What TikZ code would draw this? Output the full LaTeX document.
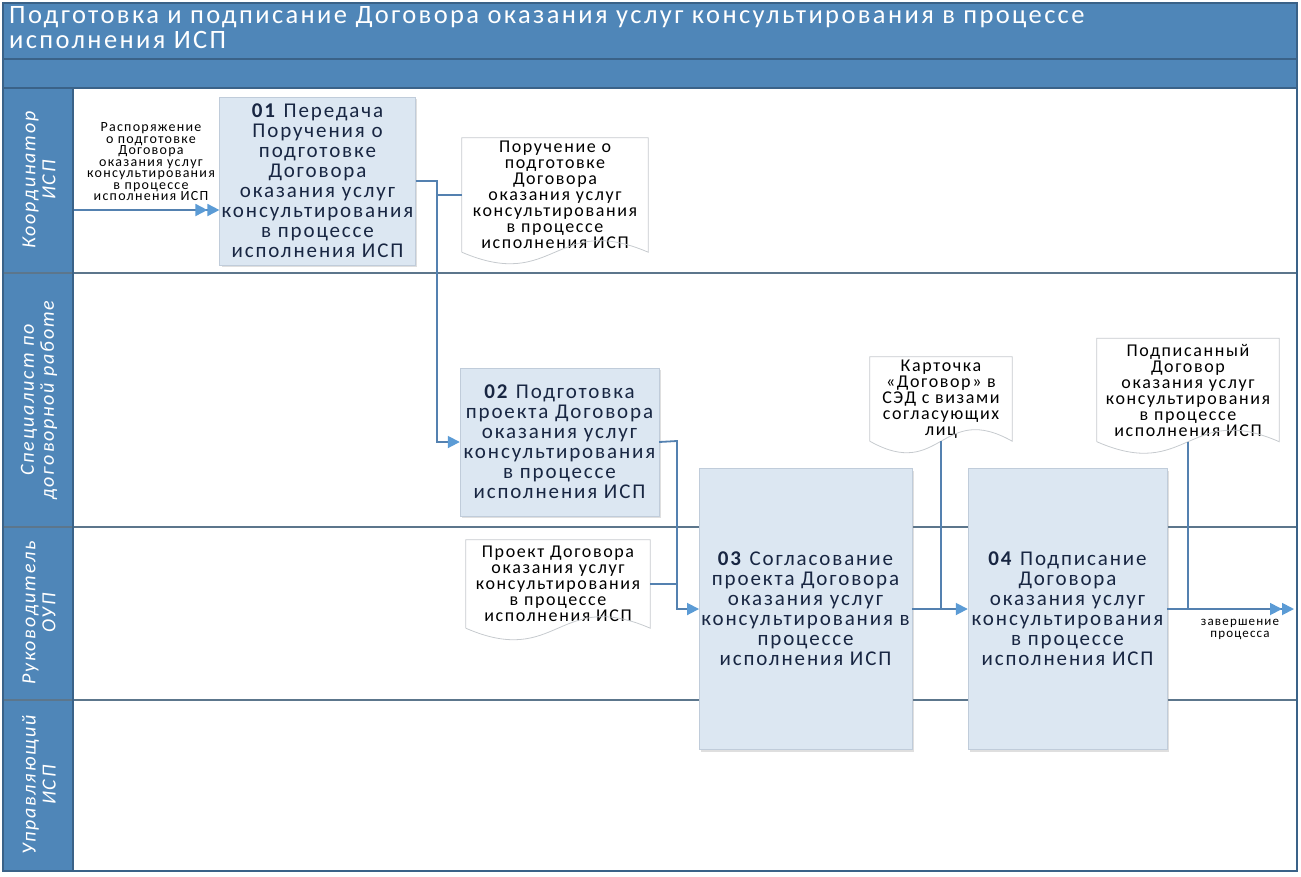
\documentclass[tikz,border=0pt]{standalone}
\usepackage{fontspec}
\setmainfont[LetterSpace=9]{Carlito}
\usetikzlibrary{arrows.meta,shadows}

\definecolor{lanehead}{RGB}{79,134,184}
\definecolor{laneedge}{RGB}{58,98,136}
\definecolor{laneline}{RGB}{92,118,140}
\definecolor{taskfill}{RGB}{220,231,242}
\definecolor{taskedge}{RGB}{192,204,218}
\definecolor{tasktext}{RGB}{24,38,66}
\definecolor{flowline}{RGB}{84,129,176}
\definecolor{flowtip}{RGB}{91,155,213}
\definecolor{docedge}{RGB}{198,202,206}

\tikzset{
  taskbox/.style={draw=taskedge, fill=taskfill, align=center, inner sep=2pt, text=tasktext,
    font=\fontsize{21}{20}\selectfont,
    drop shadow={shadow xshift=2pt, shadow yshift=-2pt, opacity=.25, fill=gray}},
  docnote/.style={align=center, inner sep=0pt, font=\fontsize{18}{16}\selectfont},
  lanename/.style={rotate=90, align=center, text=white, font=\itshape\fontsize{20}{20}\selectfont},
  flow/.style={draw=flowline, line width=1.8pt},
  into/.style={flow, -{Triangle[color=flowtip,length=12pt,width=12pt]}},
  intwo/.style={flow, -{Triangle[color=flowtip,length=12pt,width=12pt]Triangle[color=flowtip,length=12pt,width=12pt]}},
  docline/.style={draw=docedge, line width=.8pt}
}

\begin{document}
\begin{tikzpicture}[x=1pt, y=-1pt]
\useasboundingbox (0,0) rectangle (1301,876);

\fill[lanehead] (3,3) rectangle (1297,88);
\fill[lanehead] (3,88) rectangle (73,871);
\draw[laneedge, line width=1.2pt] (3,59) -- (1297,59);
\draw[laneedge, line width=1.2pt] (3,88) -- (1297,88);
\foreach \y in {273,527,700}
  \draw[laneline, line width=1.8pt] (3,\y) -- (1297,\y);
\draw[laneedge, line width=1.5pt] (3,3) rectangle (1297,871);
\draw[laneedge, line width=1.2pt] (73,88) -- (73,871);

\node[anchor=north west, inner sep=0pt, align=left, text=white, font=\fontsize{26.5}{25}\selectfont] (title) at (9,6)
  {Подготовка и подписание Договора оказания услуг консультирования в процессе\\исполнения ИСП};

\node[lanename] (lane1) at (39,180) {Координатор\\ИСП};
\node[lanename] (lane2) at (39,400) {Специалист по\\договорной работе};
\node[lanename] (lane3) at (39,613) {Руководитель\\ОУП};
\node[lanename] (lane4) at (39,785) {Управляющий\\ИСП};

\node[taskbox, minimum width=195, minimum height=168] (b1) at (317.5,181)
  {\textbf{01} Передача\\Поручения о\\подготовке\\Договора\\оказания услуг\\консультирования\\в процессе\\исполнения ИСП};
\node[taskbox, minimum width=199, minimum height=148] (b2) at (559.5,442)
  {\textbf{02} Подготовка\\проекта Договора\\оказания услуг\\консультирования\\в процессе\\исполнения ИСП};
\node[taskbox, minimum width=211, minimum height=281] (b3) at (805.5,609)
  {\textbf{03} Согласование\\проекта Договора\\оказания услуг\\консультирования в\\процессе\\исполнения ИСП};
\node[taskbox, minimum width=199, minimum height=281] (b4) at (1067.5,609)
  {\textbf{04} Подписание\\Договора\\оказания услуг\\консультирования\\в процессе\\исполнения ИСП};

\node[docnote, minimum width=186, minimum height=114] (d1) at (555,195)
  {Поручение о\\подготовке\\Договора\\оказания услуг\\консультирования\\в процессе\\исполнения ИСП};
\node[docnote, minimum width=184, minimum height=88] (d2) at (558,584)
  {Проект Договора\\оказания услуг\\консультирования\\в процессе\\исполнения ИСП};
\node[docnote, minimum width=142, minimum height=84] (d3) at (941,399)
  {Карточка\\«Договор» в\\СЭД с визами\\согласующих\\лиц};
\node[docnote, minimum width=182, minimum height=103] (d4) at (1188,390)
  {Подписанный\\Договор\\оказания услуг\\консультирования\\в процессе\\исполнения ИСП};
\foreach \d in {d1,d2,d3,d4}
  \draw[docline] (\d.south west) -- (\d.north west) -- (\d.north east) -- (\d.south east)
    .. controls ([yshift=40pt]\d.south) and ([yshift=-40pt]\d.south) .. (\d.south west);

\node[align=center, inner sep=0pt, font=\fontsize{14}{11.5}\selectfont] (inlbl) at (151,162)
  {Распоряжение\\о подготовке\\Договора\\оказания услуг\\консультирования\\в процессе\\исполнения ИСП};
\node[align=center, inner sep=0pt, font=\fontsize{13}{12}\selectfont] (finlbl) at (1240,629)
  {завершение\\процесса};

\coordinate (src) at (74,210);
\coordinate (j1) at (437,181);
\coordinate (j2) at (677,441);
\coordinate (fin) at (1294,609);

\draw[intwo] (src) -- (src -| b1.west);
\draw[into] (b1.east) -- (j1) |- (b2.west);
\draw[flow] (d1.west) -- (d1.west -| j1);
\draw[into] (b2.east) -- (j2) |- (b3.west);
\draw[flow] (d2.east) -- (d2.east -| j2);
\draw[into] (b3.east) -- (b4.west);
\draw[flow] (d3.south) -- (d3.south |- b3.east);
\draw[intwo] (b4.east) -- (fin);
\draw[flow] (d4.south) -- (d4.south |- b4.east);
\end{tikzpicture}
\end{document}
